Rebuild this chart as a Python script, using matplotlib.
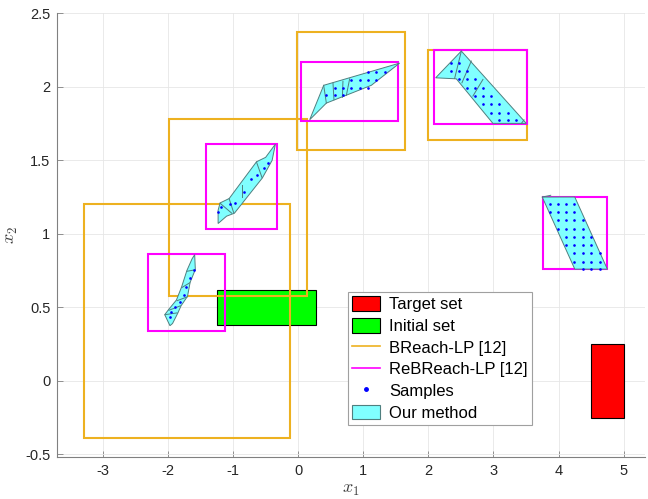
import matplotlib
matplotlib.use("Agg")
import matplotlib.pyplot as plt
import numpy as np
from matplotlib.patches import Polygon, Rectangle, Patch
from matplotlib.lines import Line2D

plt.rcParams["font.family"] = ["Liberation Sans", "DejaVu Sans"]
plt.rcParams["mathtext.fontset"] = "cm"

# sets: [xmin, xmax, ymin, ymax]
target_box = [4.5, 5.0, -0.25, 0.25]
initial_box = [-1.25, 0.27, 0.38, 0.62]

breach_boxes = [
    [-3.29, -0.13, -0.39, 1.20],
    [-1.99, 0.13, 0.58, 1.78],
    [-0.02, 1.64, 1.57, 2.37],
    [1.99, 3.51, 1.64, 2.25],
]

rebreach_boxes = [
    [-2.30, -1.13, 0.34, 0.86],
    [-1.42, -0.33, 1.03, 1.61],
    [0.05, 1.54, 1.77, 2.17],
    [2.08, 3.51, 1.75, 2.25],
    [3.76, 4.75, 0.76, 1.25],
]

# outer boundaries of our sets
our_sets = [
    [(-1.59, 0.858), (-1.58, 0.757), (-1.66, 0.67), (-1.70, 0.575), (-1.80, 0.51),
     (-1.85, 0.46), (-1.93, 0.39), (-1.97, 0.375), (-2.05, 0.45), (-1.99, 0.485),
     (-1.87, 0.55), (-1.79, 0.64), (-1.71, 0.75), (-1.63, 0.83)],
    [(-1.23, 1.07), (-1.23, 1.16), (-1.20, 1.21), (-1.06, 1.24), (-0.64, 1.49),
     (-0.50, 1.52), (-0.35, 1.61), (-0.40, 1.50), (-0.55, 1.38), (-0.98, 1.14),
     (-1.10, 1.12)],
    [(0.177, 1.776), (0.392, 2.010), (1.559, 2.161), (1.124, 2.010), (0.433, 1.889)],
    [(2.112, 2.061), (2.507, 2.243), (3.505, 1.751), (2.992, 1.751), (2.43, 2.054)],
    [(3.75, 1.25), (4.25, 1.25), (4.75, 0.76), (4.25, 0.76)],
]

# partition edges inside our sets
our_edges = [
    [(-1.710, 0.745), (-1.585, 0.755)], [(-1.785, 0.635), (-1.665, 0.667)],
    [(-1.860, 0.545), (-1.705, 0.571)], [(-1.985, 0.480), (-1.810, 0.510)],
    [(-2.045, 0.450), (-1.860, 0.462)],
    [(-1.200, 1.208), (-1.020, 1.140)], [(-1.060, 1.238), (-0.990, 1.143)],
    [(-0.860, 1.330), (-0.860, 1.250)], [(-0.640, 1.488), (-0.555, 1.382)],
    [(0.392, 2.010), (0.433, 1.889)], [(0.535, 2.025), (0.550, 1.912)],
    [(0.688, 2.037), (0.679, 1.928)], [(0.791, 2.054), (0.740, 1.941)],
    [(2.507, 2.243), (2.404, 2.057)], [(2.660, 2.175), (2.516, 2.027)],
    [(2.839, 2.050), (2.685, 1.937)], [(3.430, 1.751), (3.470, 1.775)],
    [(3.75, 1.25), (3.88, 1.262)],
]

samples_x = [
    -1.605, -1.717, -1.754, -1.820, -1.948, -1.974, -1.66, -1.90,
    -1.232, -1.19, -1.05, -0.975, -0.837, -0.719, -0.64, -0.52, -0.464,
    1.072, 1.201, 1.329, 0.817, 0.945, 1.072, 1.201, 0.561, 0.688, 0.817,
    0.945, 1.072, 0.433, 0.561, 0.688,
    2.353, 2.470, 2.353, 2.470, 2.587, 2.470, 2.587, 2.710, 2.587, 2.710,
    2.840, 2.710, 2.840, 2.970, 2.840, 2.970, 3.090, 2.970, 3.090, 3.220,
    3.090, 3.220, 3.350,
    3.863, 3.991, 4.109, 4.237, 3.863, 3.991, 4.109, 4.237, 3.991, 4.109,
    4.237, 4.375, 3.991, 4.109, 4.237, 4.375, 4.109, 4.237, 4.375, 4.504,
    4.109, 4.237, 4.375, 4.504, 4.237, 4.375, 4.504, 4.631, 4.237, 4.375,
    4.504, 4.631, 4.375, 4.504, 4.631,
]
samples_y = [
    0.753, 0.640, 0.583, 0.537, 0.469, 0.435, 0.70, 0.50,
    1.150, 1.18, 1.20, 1.207, 1.286, 1.370, 1.40, 1.45, 1.479,
    2.100, 2.100, 2.100, 2.048, 2.048, 2.048, 2.048, 1.991, 1.991, 1.991,
    1.991, 1.991, 1.941, 1.941, 1.941,
    2.163, 2.163, 2.107, 2.107, 2.107, 2.050, 2.050, 2.050, 1.993, 1.993,
    1.993, 1.937, 1.937, 1.937, 1.880, 1.880, 1.880, 1.823, 1.823, 1.823,
    1.773, 1.773, 1.773,
    1.201, 1.201, 1.201, 1.201, 1.151, 1.151, 1.151, 1.151, 1.095, 1.095,
    1.095, 1.095, 1.036, 1.036, 1.036, 1.036, 0.979, 0.979, 0.979, 0.979,
    0.925, 0.925, 0.925, 0.925, 0.867, 0.867, 0.867, 0.867, 0.805, 0.805,
    0.805, 0.805, 0.760, 0.760, 0.760,
]

orange = "#EDB120"
magenta = "#FF00FF"
cyan = "#80FFFF"
edge_gray = "#4F7F7F"


def box(b, **kw):
    return Rectangle((b[0], b[2]), b[1] - b[0], b[3] - b[2], **kw)


fig = plt.figure(figsize=(6.48, 4.99), dpi=100)
ax = fig.add_axes([0.0885, 0.0836, 0.907, 0.8898])

ax.add_patch(box(target_box, facecolor="#FF0000", edgecolor="k", lw=0.8, zorder=3))
ax.add_patch(box(initial_box, facecolor="#00FF00", edgecolor="k", lw=0.8, zorder=3))

for b in breach_boxes:
    ax.add_patch(box(b, fill=False, edgecolor=orange, lw=1.5, zorder=4))
for b in rebreach_boxes:
    ax.add_patch(box(b, fill=False, edgecolor=magenta, lw=1.5, zorder=5))

for s in our_sets:
    ax.add_patch(Polygon(s, closed=True, facecolor=cyan, edgecolor=edge_gray,
                         lw=0.7, zorder=6))
for e in our_edges:
    ax.plot([e[0][0], e[1][0]], [e[0][1], e[1][1]], color=edge_gray, lw=0.7,
            zorder=6)

ax.plot(samples_x, samples_y, ".", color="#0000FF", ms=1.8, zorder=7)

ax.set_xlim(-3.7, 5.33)
ax.set_ylim(-0.52, 2.5)
ax.set_xticks(np.arange(-3, 6, 1))
ax.set_yticks(np.arange(-0.5, 2.6, 0.5))
ax.set_yticklabels(["-0.5", "0", "0.5", "1", "1.5", "2", "2.5"])
ax.set_xticklabels(["-3", "-2", "-1", "0", "1", "2", "3", "4", "5"])
ax.grid(True, color="#E6E6E6", lw=0.6)
ax.set_axisbelow(True)
for side in ["top", "right"]:
    ax.spines[side].set_visible(False)
for side in ["left", "bottom"]:
    ax.spines[side].set_color("#808080")
    ax.spines[side].set_linewidth(0.8)
ax.tick_params(direction="in", length=4, width=0.6, color="#808080",
               labelsize=10.5, labelcolor="#262626", pad=5)

ax.set_xlabel("$x_1$", fontsize=13, color="#404040", labelpad=2)
ax.set_ylabel("$x_2$", fontsize=13, color="#404040", labelpad=4)

handles = [
    Patch(facecolor="#FF0000", edgecolor="k", lw=0.8),
    Patch(facecolor="#00FF00", edgecolor="k", lw=0.8),
    Line2D([], [], color=orange, lw=1.2),
    Line2D([], [], color=magenta, lw=1.2),
    Line2D([], [], ls="none", marker=".", color="#0000FF", ms=5),
    Patch(facecolor=cyan, edgecolor=edge_gray, lw=0.8),
]
labels = ["Target set", "Initial set", "BReach-LP [12]", "ReBReach-LP [12]",
          "Samples", "Our method"]
leg = ax.legend(handles, labels, loc="lower left",
                bbox_to_anchor=(0.495, 0.073), fontsize=12, frameon=True,
                fancybox=False, edgecolor="#A0A0A0", framealpha=1,
                borderpad=0.25, labelspacing=0.33, handlelength=1.65,
                handleheight=1.0, handletextpad=0.55, borderaxespad=0)
leg.get_frame().set_linewidth(0.8)

fig.savefig("out.png", dpi=100)
